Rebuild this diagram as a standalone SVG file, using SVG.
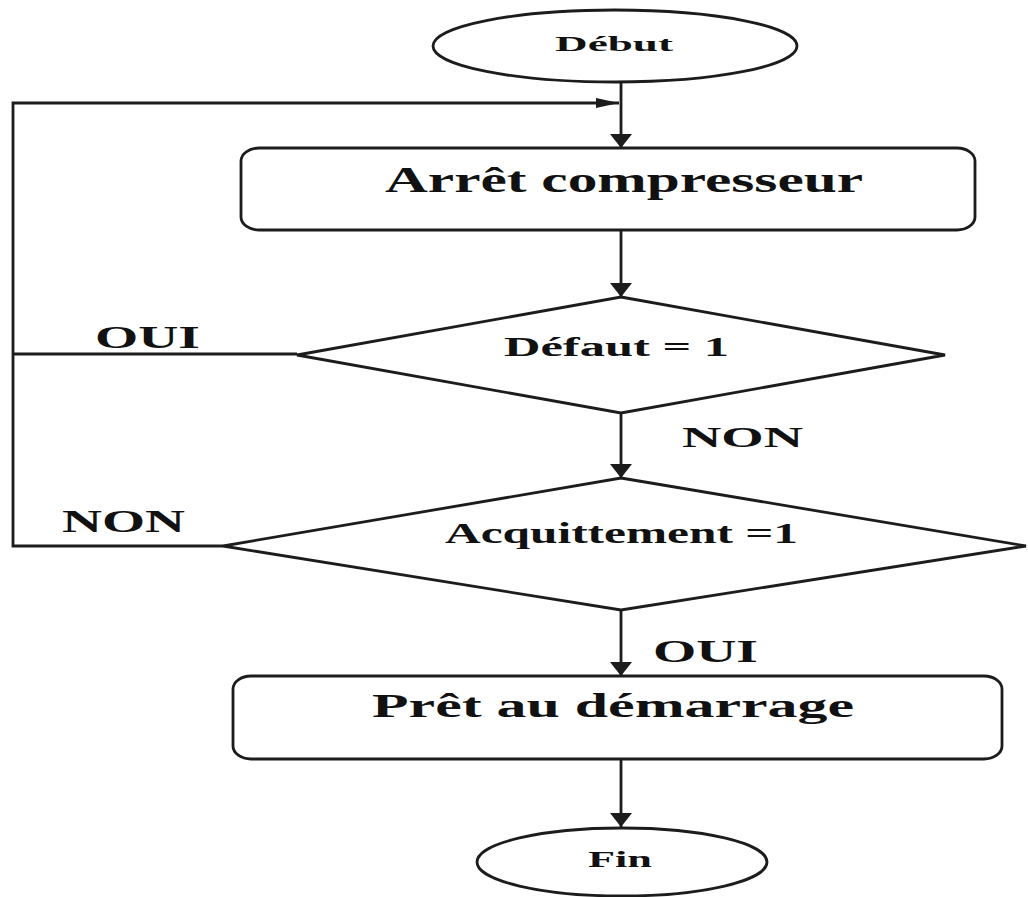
<svg xmlns="http://www.w3.org/2000/svg" width="1028" height="897" viewBox="0 0 1028 897">
  <style>
    .shape { fill: #ffffff; stroke: #1c1c1c; stroke-width: 2.8; }
    .wire { fill: none; stroke: #1c1c1c; stroke-width: 2.8; }
    .lbl { font-family: "Liberation Serif", "Times New Roman", serif; font-weight: bold; fill: #111111; }
  </style>
  <defs>
    <marker id="arrowV" markerUnits="userSpaceOnUse" markerWidth="16" markerHeight="24" refX="14" refY="11" orient="auto" viewBox="0 0 16 24">
      <path d="M0,0 L14,11 L0,22 z" fill="#1c1c1c"/>
    </marker>
    <marker id="arrowH" markerUnits="userSpaceOnUse" markerWidth="24" markerHeight="12" refX="23" refY="5" orient="auto" viewBox="0 0 24 12">
      <path d="M0,0 L23,5 L0,10 z" fill="#1c1c1c"/>
    </marker>
  </defs>

  <rect width="1028" height="897" fill="#ffffff"/>

  <!-- connectors -->
  <g id="connectors">
    <line class="wire" x1="621" y1="82" x2="621" y2="148" marker-end="url(#arrowV)"/>
    <line class="wire" x1="621" y1="230" x2="621" y2="297" marker-end="url(#arrowV)"/>
    <line class="wire" x1="621" y1="413" x2="621" y2="478" marker-end="url(#arrowV)"/>
    <line class="wire" x1="621" y1="610" x2="621" y2="676" marker-end="url(#arrowV)"/>
    <line class="wire" x1="621" y1="759" x2="621" y2="827" marker-end="url(#arrowV)"/>
    <!-- loop back to the compressor stop -->
    <polyline class="wire" points="223,546 13,546 13,103 619,103" marker-end="url(#arrowH)"/>
    <line class="wire" x1="297" y1="354" x2="13" y2="354"/>
    <text class="lbl" x="95" y="348" font-size="31" textLength="105" lengthAdjust="spacingAndGlyphs">OUI</text>
    <text class="lbl" x="62" y="532" font-size="31" textLength="123" lengthAdjust="spacingAndGlyphs">NON</text>
    <text class="lbl" x="682" y="447" font-size="30" textLength="121" lengthAdjust="spacingAndGlyphs">NON</text>
    <text class="lbl" x="653" y="662" font-size="32" textLength="105" lengthAdjust="spacingAndGlyphs">OUI</text>
  </g>

  <g id="debut">
    <ellipse class="shape" cx="615" cy="46" rx="182" ry="36"/>
    <text class="lbl" x="555" y="51" font-size="22" textLength="118" lengthAdjust="spacingAndGlyphs">Début</text>
  </g>

  <g id="arret-compresseur">
    <rect class="shape" x="241" y="148" width="734" height="82" rx="18" ry="13"/>
    <text class="lbl" x="385" y="192" font-size="35" textLength="478" lengthAdjust="spacingAndGlyphs">Arrêt compresseur</text>
  </g>

  <g id="defaut">
    <polygon class="shape" points="621,297 945,355 621,413 297,355"/>
    <text class="lbl" x="504" y="356" font-size="27" textLength="225" lengthAdjust="spacingAndGlyphs">Défaut = 1</text>
  </g>

  <g id="acquittement">
    <polygon class="shape" points="621,478 1026,546 621,610 223,546"/>
    <text class="lbl" x="445" y="543" font-size="29" textLength="353" lengthAdjust="spacingAndGlyphs">Acquittement =1</text>
  </g>

  <g id="pret-demarrage">
    <rect class="shape" x="233" y="676" width="769" height="83" rx="18" ry="13"/>
    <text class="lbl" x="372" y="717" font-size="33" textLength="482" lengthAdjust="spacingAndGlyphs">Prêt au démarrage</text>
  </g>

  <g id="fin">
    <ellipse class="shape" cx="622" cy="862" rx="145" ry="34"/>
    <text class="lbl" x="588" y="867" font-size="23" textLength="64" lengthAdjust="spacingAndGlyphs">Fin</text>
  </g>
</svg>
